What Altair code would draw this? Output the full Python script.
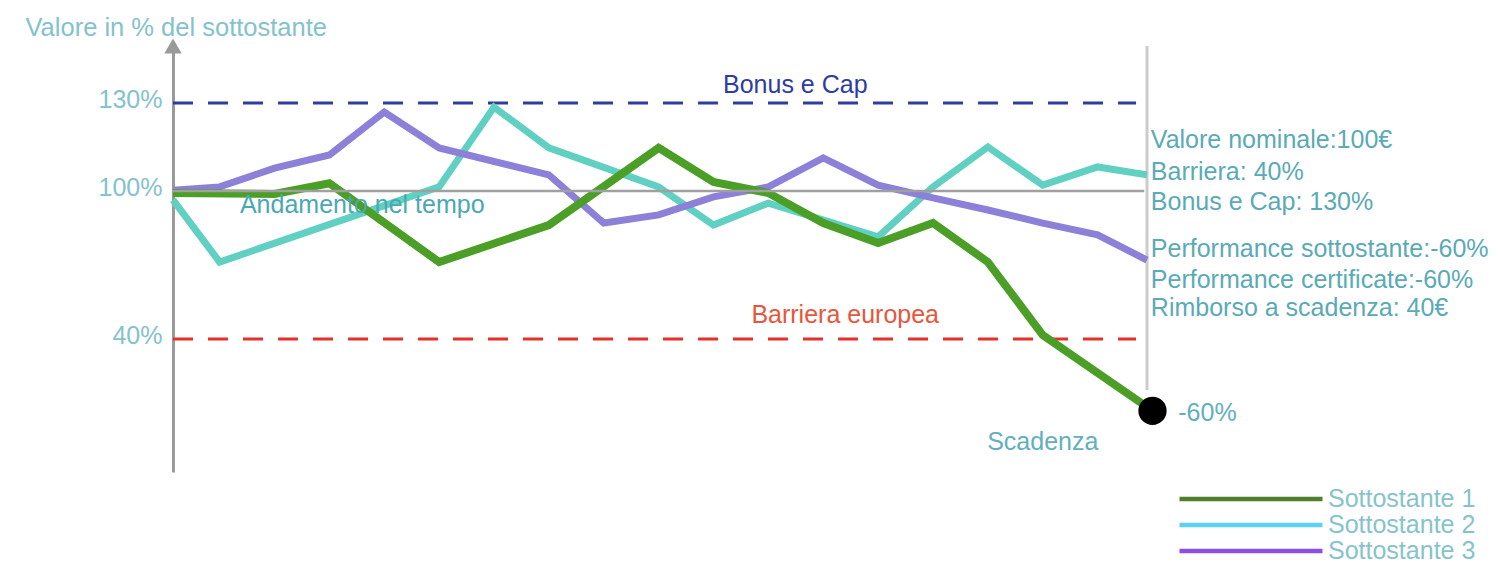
import altair as alt
import pandas as pd

# ---------------- data ----------------
series_names = ["Sottostante 1", "Sottostante 2", "Sottostante 3"]
line_colors = ["#4b9e26", "#5fd0c2", "#8c80d8"]
legend_colors = ["#4f7f2c", "#5dd2f6", "#8b4fe6"]

# time (periods) and value in % of the underlying
t_s1 = [0.15, 2, 3, 5, 7, 9, 10, 11, 12, 13, 14, 15, 16, 18.0]
v_s1 = [99.2, 98.8, 102.6, 71.2, 86.2, 114.7, 103.1, 99.2, 87.0, 78.9, 87.0, 71.2, 41.6, 10.9]

t_s2 = [0.15, 1, 5, 6, 7, 9, 10, 11, 13, 14, 15, 16, 17, 17.9]
v_s2 = [96.4, 71.2, 101.4, 128.6, 114.7, 101.4, 86.2, 95.1, 81.4, 101.4, 115.0, 102.0, 108.2, 105.5]

t_s3 = [0.15, 1, 2, 3, 4, 5, 7, 8, 9, 10, 11, 12, 13, 14, 15, 16, 17, 17.9]
v_s3 = [100.3, 101.4, 107.8, 112.3, 126.9, 114.7, 105.5, 87.0, 90.3, 97.6, 101.4, 111.3,
        102.0, 97.2, 92.3, 87.0, 82.2, 72.0]

tick_values = [40, 100, 130]
bonus_cap = 130
nominal = 100
barrier = 40

t_start = 0.15
t_end = 17.9
v_top = 149.4
v_bottom = -13.9

end_t = 18.0
end_v = 10.9

info_lines = ["Valore nominale:100€", "Barriera: 40%", "Bonus e Cap: 130%",
              "Performance sottostante:-60%", "Performance certificate:-60%",
              "Rimborso a scadenza: 40€"]
info_v = [117.4, 106.6, 95.7, 76.4, 63.9, 52.4]
info_t = [17.97] * 6

# ---------------- tables ----------------
def frame(name, t, v):
    return pd.DataFrame({"serie": name, "t": t, "v": v})

df1 = frame(series_names[0], t_s1, v_s1)
df2 = frame(series_names[1], t_s2, v_s2)
df3 = frame(series_names[2], t_s3, v_s3)
all_lines = pd.concat([df1, df2, df3], ignore_index=True)

FONT = "Liberation Sans"
FS = 25

x_scale = alt.Scale(domain=[t_start, t_end], nice=False, zero=False)
y_scale = alt.Scale(domain=[v_bottom, barrier, nominal, bonus_cap, v_top],
                    range=[426, 293, 145, 57, 0], nice=False, zero=False)

y_axis = alt.Axis(values=tick_values, labelExpr="datum.value + '%'", ticks=False,
                  grid=False, domainColor="#9a9a9a", domainWidth=3,
                  labelFont=FONT, labelFontSize=FS, labelColor="#84c2cc",
                  labelPadding=11, labelOffset=-4,
                  title="Valore in % del sottostante", titleAngle=0,
                  titleAlign="left", titleBaseline="middle", titleX=-148, titleY=-19,
                  titleFont=FONT, titleFontSize=25.5, titleFontWeight="normal",
                  titleColor="#84c2cc")


def X(field="t"):
    return alt.X(f"{field}:Q", scale=x_scale, axis=None)


def Y(field="v"):
    return alt.Y(f"{field}:Q", scale=y_scale, axis=y_axis)


# horizontal levels
lv = pd.DataFrame({"t": [t_start], "t2": [17.7], "v": [bonus_cap]})
blue = alt.Chart(lv).mark_rule(color="#2e3d9f", strokeWidth=3, strokeDash=[20, 15]).encode(
    x=X(), x2="t2:Q", y=Y())
lr = pd.DataFrame({"t": [t_start], "t2": [17.7], "v": [barrier]})
red = alt.Chart(lr).mark_rule(color="#e8302a", strokeWidth=3, strokeDash=[20, 15]).encode(
    x=X(), x2="t2:Q", y=Y())
ln = pd.DataFrame({"t": [t_start], "t2": [17.85], "v": [nominal]})
gray = alt.Chart(ln).mark_rule(color="#a0a0a0", strokeWidth=2.5).encode(
    x=X(), x2="t2:Q", y=Y())

# right vertical line (maturity)
lvert = pd.DataFrame({"t": [t_end], "v": [v_top], "v2": [19.3]})
vert = alt.Chart(lvert).mark_rule(color="#cccccc", strokeWidth=3).encode(
    x=X(), y=Y(), y2="v2:Q")

# arrow head on the y axis
arrow = alt.Chart(pd.DataFrame({"t": [t_start], "v": [v_top]})).mark_point(
    shape="triangle-up", filled=True, size=300, color="#9a9a9a", opacity=1).encode(x=X(), y=Y())

# series lines
l2 = alt.Chart(df2).mark_line(color=line_colors[1], strokeWidth=7).encode(x=X(), y=Y())
l3 = alt.Chart(df3).mark_line(color=line_colors[2], strokeWidth=7).encode(x=X(), y=Y())
l1 = alt.Chart(df1).mark_line(color=line_colors[0], strokeWidth=8).encode(x=X(), y=Y())

# legend (invisible duplicate lines carrying the legend colours)
legend_layer = alt.Chart(all_lines).mark_line(opacity=0).encode(
    x=X(), y=Y(), detail="serie:N",
    color=alt.Color("serie:N",
                    scale=alt.Scale(domain=series_names, range=legend_colors),
                    legend=alt.Legend(orient="none", legendX=1004, legendY=440, title=None,
                                      symbolType="stroke", symbolSize=20449,
                                      symbolStrokeWidth=4.5, symbolOpacity=1,
                                      clipHeight=26, rowPadding=0, padding=0,
                                      labelFont=FONT, labelFontSize=FS,
                                      labelColor="#86c3cc", labelOffset=3)))

# end point
dot = alt.Chart(pd.DataFrame({"t": [end_t], "v": [end_v]})).mark_circle(
    size=800, color="black", opacity=1).encode(x=X(), y=Y())

# annotations
ann = pd.DataFrame({
    "label": ["Bonus e Cap", "Barriera europea", "Andamento nel tempo", "Scadenza", "-60%"],
    "t": [11.49, 12.4, 1.37, 16.0, 18.47],
    "v": [136.1, 49.7, 94.3, -1.6, 10.0],
    "col": ["#2e3d9f", "#e8553d", "#4aa8b3", "#62b0bd", "#62b0bd"],
    "al": ["center", "center", "left", "center", "left"],
})
ann_c = ann[ann["al"] == "center"]
ann_l = ann[ann["al"] == "left"]
txt_c = alt.Chart(ann_c).mark_text(font=FONT, fontSize=FS, align="center", baseline="middle").encode(
    x=X(), y=Y(), text="label:N", color=alt.Color("col:N", scale=None))
txt_l = alt.Chart(ann_l).mark_text(font=FONT, fontSize=FS, align="left", baseline="middle").encode(
    x=X(), y=Y(), text="label:N", color=alt.Color("col:N", scale=None))

info = pd.DataFrame({"label": info_lines, "t": info_t, "v": info_v})
txt_info = alt.Chart(info).mark_text(font=FONT, fontSize=FS, align="left", baseline="middle",
                                     color="#5aaab7").encode(x=X(), y=Y(), text="label:N")

chart = alt.layer(
    blue, red, vert, l2, l3, l1, gray, legend_layer, arrow, dot, txt_c, txt_l, txt_info
).resolve_scale(color="independent").properties(
    width=974, height=426,
    autosize=alt.AutoSizeParams(type="none"),
    padding={"left": 165, "top": 38, "right": 345, "bottom": 92},
).configure(background="white").configure_view(stroke=None, strokeWidth=0)

chart.save("out.html", embed_options={"renderer": "svg", "actions": False})
